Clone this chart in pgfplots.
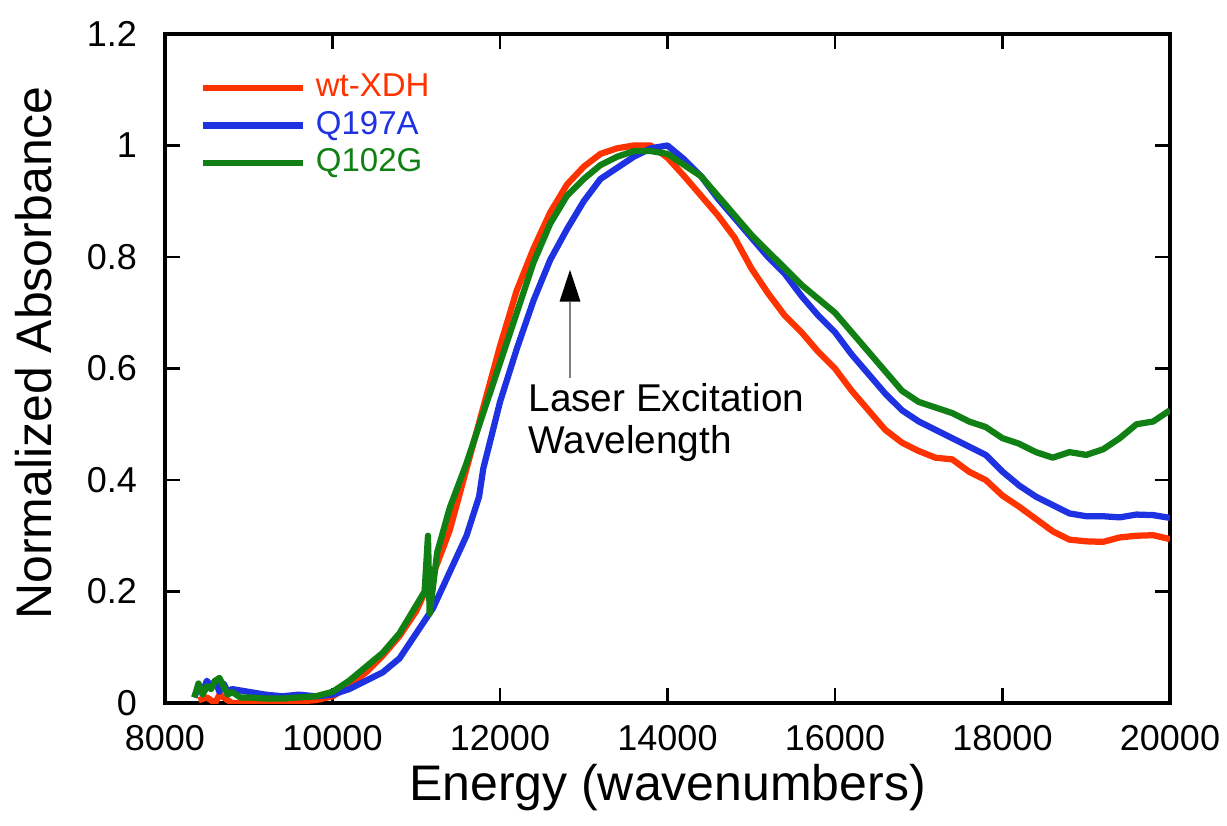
\documentclass[border=0pt]{standalone}
\usepackage{pgfplots}
\pgfplotsset{compat=1.18}
\usepackage{fontspec}
\setmainfont{Liberation Sans}
\usetikzlibrary{arrows.meta}
\definecolor{xred}{RGB}{255,51,0}
\definecolor{xblue}{RGB}{30,50,225}
\definecolor{xgreen}{RGB}{16,128,20}
\begin{document}
\begin{tikzpicture}
\useasboundingbox (-66pt,-48.8pt) rectangle (424.8pt,281.2pt);
\begin{axis}[
  at={(0,0)}, anchor=south west,
  scale only axis, width=402pt, height=267.6pt,
  xmin=8000, xmax=20000, ymin=0, ymax=1.2,
  xtick={8000,10000,...,20000},
  ytick={0,0.2,...,1.2},
  scaled x ticks=false,
  /pgf/number format/assume math mode=true,
  /pgf/number format/1000 sep={},
  tick align=inside,
  major tick length=6pt,
  axis line style={line width=1.3pt},
  every tick/.style={black, line width=1pt},
  tick label style={font=\fontsize{14.4}{16}\selectfont, inner sep=0pt},
  xticklabel style={yshift=-8.6pt},
  yticklabel style={xshift=-11pt},
  xlabel={Energy (wavenumbers)},
  ylabel={Normalized Absorbance},
  label style={font=\fontsize{20}{24}\selectfont},
  xlabel style={at={([yshift=-38.8pt]axis description cs:0.5,0)}, anchor=base},
  ylabel style={at={([xshift=-45.2pt,yshift=6.2pt]axis description cs:0,0.5)}, anchor=base},
  legend style={at={(axis description cs:0.034,0.948)}, anchor=north west,
    draw=none, fill=none, inner sep=0pt, row sep=0pt,
    font=\fontsize{13.2}{15}\selectfont,
    nodes={inner sep=1pt, text height=10pt, text depth=3pt},
    cells={anchor=west}},
  legend image code/.code={\draw[#1] (0pt,0pt) -- (40pt,0pt); \path (43pt,0pt);},
  every axis plot/.append style={line width=2.5pt, line join=round},
]
\addplot[xred] coordinates {
(8400,0.005) (8500,0.01) (8600,0.0) (8650,0.015) (8700,0.01) (8800,0.0)
(9000,0.0) (9200,0.0) (9400,0.002) (9600,0.003) (9800,0.005) (10000,0.012)
(10200,0.03) (10400,0.055) (10600,0.085) (10800,0.12) (11000,0.165) (11200,0.23)
(11400,0.31) (11600,0.42) (11800,0.53) (12000,0.64) (12200,0.74) (12400,0.815)
(12600,0.88) (12800,0.93) (13000,0.962) (13200,0.985) (13400,0.995) (13600,1.0)
(13800,1.0) (14000,0.978) (14200,0.945) (14400,0.91) (14600,0.875) (14800,0.835)
(15000,0.78) (15200,0.735) (15400,0.695) (15600,0.665) (15800,0.63) (16000,0.60)
(16200,0.56) (16400,0.525) (16600,0.49) (16800,0.467) (17000,0.452) (17200,0.44)
(17400,0.437) (17600,0.415) (17800,0.40) (18000,0.372) (18200,0.352) (18400,0.33)
(18600,0.308) (18800,0.293) (19000,0.29) (19200,0.289) (19400,0.297) (19600,0.30)
(19800,0.301) (20000,0.294)
};
\addlegendentry{\textcolor{xred}{wt-XDH}}
\addplot[xblue] coordinates {
(8350,0.01) (8400,0.03) (8450,0.02) (8500,0.04) (8550,0.03) (8600,0.04)
(8650,0.02) (8700,0.035) (8750,0.02) (8800,0.025) (9000,0.02) (9200,0.015)
(9400,0.012) (9600,0.015) (9800,0.012) (10000,0.015) (10200,0.025) (10400,0.04)
(10600,0.055) (10800,0.08) (11000,0.125) (11200,0.17) (11400,0.235) (11600,0.30)
(11750,0.37) (11800,0.42) (11900,0.48) (12000,0.54) (12200,0.635) (12400,0.722)
(12600,0.795) (12800,0.85) (13000,0.90) (13200,0.94) (13400,0.96) (13600,0.98)
(13800,0.995) (14000,1.0) (14200,0.975) (14400,0.945) (14600,0.905) (14800,0.87)
(15000,0.835) (15200,0.80) (15400,0.77) (15600,0.73) (15800,0.695) (16000,0.665)
(16200,0.625) (16400,0.59) (16600,0.555) (16800,0.525) (17000,0.505) (17200,0.49)
(17400,0.475) (17600,0.46) (17800,0.445) (18000,0.415) (18200,0.39) (18400,0.37)
(18600,0.355) (18800,0.34) (19000,0.335) (19200,0.335) (19400,0.333) (19600,0.338)
(19800,0.337) (20000,0.332)
};
\addlegendentry{\textcolor{xblue}{Q197A}}
\addplot[xgreen] coordinates {
(8350,0.01) (8400,0.035) (8450,0.015) (8500,0.03) (8550,0.025) (8600,0.04)
(8650,0.045) (8700,0.03) (8750,0.015) (8800,0.02) (8900,0.01) (9000,0.01)
(9200,0.008) (9400,0.008) (9600,0.01) (9800,0.012) (10000,0.02) (10200,0.04)
(10400,0.065) (10600,0.09) (10800,0.125) (11000,0.175) (11100,0.2) (11140,0.30)
(11160,0.16) (11250,0.27) (11400,0.35) (11600,0.43) (11800,0.52) (12000,0.61)
(12200,0.70) (12400,0.79) (12600,0.86) (12800,0.91) (13000,0.94) (13200,0.965)
(13400,0.98) (13600,0.99) (13800,0.99) (14000,0.985) (14200,0.965) (14400,0.945)
(14600,0.91) (14800,0.875) (15000,0.84) (15200,0.81) (15400,0.78) (15600,0.75)
(15800,0.725) (16000,0.70) (16200,0.665) (16400,0.63) (16600,0.595) (16800,0.56)
(17000,0.54) (17200,0.53) (17400,0.52) (17600,0.505) (17800,0.495) (18000,0.475)
(18200,0.465) (18400,0.45) (18600,0.44) (18800,0.45) (19000,0.445) (19200,0.455)
(19400,0.475) (19600,0.50) (19800,0.505) (20000,0.525)
};
\addlegendentry{\textcolor{xgreen}{Q102G}}
\draw[gray, line width=0.6pt] (axis cs:12836,0.583) -- (axis cs:12836,0.72);
\fill[black] (axis cs:12836,0.777) -- ([xshift=-4.2pt]axis cs:12836,0.72) -- ([xshift=4.2pt]axis cs:12836,0.72) -- cycle;
\node[anchor=north west, inner sep=0pt, align=left, font=\fontsize{15.5}{16.8}\selectfont]
  at (axis cs:12334,0.575) {Laser Excitation\\Wavelength};
\end{axis}
\end{tikzpicture}
\end{document}
